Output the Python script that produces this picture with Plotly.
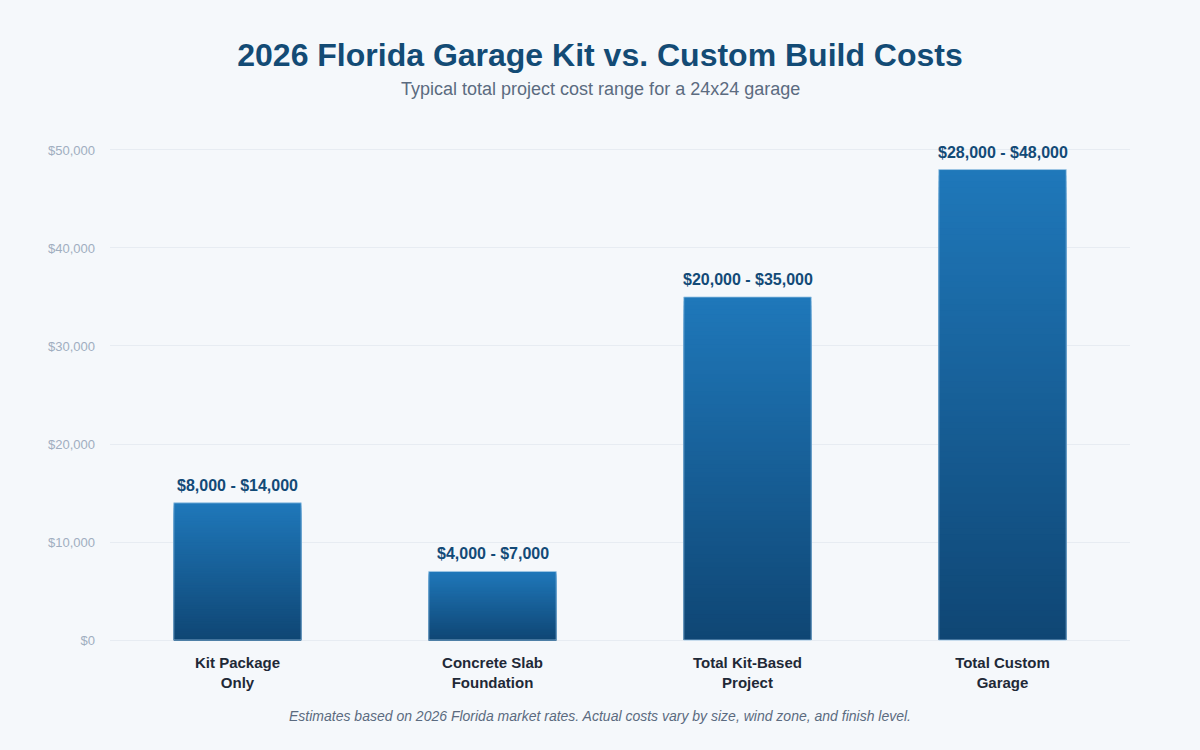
import plotly.graph_objects as go

categories = ["Kit Package<br>Only", "Concrete Slab<br>Foundation", "Total Kit-Based<br>Project", "Total Custom<br>Garage"]
low_values = [8000, 4000, 20000, 28000]
high_values = [14000, 7000, 35000, 48000]
range_labels = ["$8,000 - $14,000", "$4,000 - $7,000", "$20,000 - $35,000", "$28,000 - $48,000"]
tick_vals = [0, 10000, 20000, 30000, 40000, 50000]
tick_text = ["$0", "$10,000", "$20,000", "$30,000", "$40,000", "$50,000"]

top_rgb = (31, 120, 186)
bot_rgb = (15, 70, 116)
N = 80

fig = go.Figure()
# gradient: overlapping bars from 0, tallest (lightest top colour) drawn first
for k in range(N, 0, -1):
    t = (k - 0.5) / N
    c = tuple(round(bot_rgb[j] + (top_rgb[j] - bot_rgb[j]) * t) for j in range(3))
    fig.add_trace(go.Bar(
        x=categories,
        y=[v * k / N for v in high_values],
        marker=dict(color=f"rgb{c}", line=dict(width=0)),
        hoverinfo="skip", showlegend=False,
    ))

fig.add_trace(go.Bar(
    x=categories, y=high_values,
    marker=dict(color="rgba(0,0,0,0)", line=dict(color="rgba(160,200,230,0.8)", width=1)),
    showlegend=False, hoverinfo="skip",
))

annotations = []
for cat, v, lab in zip(categories, high_values, range_labels):
    annotations.append(dict(x=cat, y=v, xref="x", yref="y", text=f"<b>{lab}</b>", showarrow=False,
                            yanchor="bottom", yshift=7,
                            font=dict(size=16, color="#124a77")))

L, R, T, B = 110, 70, 147, 107
plot_h = 750 - T - B
plot_w = 1200 - L - R
def py(pix):
    return (750 - B - pix) / plot_h
cx = (600 - L) / plot_w

annotations.append(dict(text="Typical total project cost range for a 24x24 garage", x=cx, y=py(89),
                        xref="paper", yref="paper", showarrow=False, yanchor="middle",
                        font=dict(size=18, color="#5b6b80")))
annotations.append(dict(text="<i>Estimates based on 2026 Florida market rates. Actual costs vary by size, wind zone, and finish level.</i>",
                        x=cx, y=py(716), xref="paper", yref="paper", showarrow=False, yanchor="middle",
                        font=dict(size=14, color="#5b6b80")))

fig.update_layout(
    width=1200, height=750,
    barmode="overlay", bargap=0.5,
    paper_bgcolor="#f5f8fb", plot_bgcolor="#f5f8fb",
    margin=dict(l=L, r=R, t=T, b=B),
    font=dict(family="Liberation Sans, Arial, sans-serif"),
    title=dict(
        text="<b>2026 Florida Garage Kit vs. Custom Build Costs</b>",
        x=0.5, xanchor="center", y=0.927, yanchor="middle",
        font=dict(size=32, color="#134b75"),
    ),
    annotations=annotations,
)

fig.update_yaxes(range=[-300, 50300], tickvals=tick_vals, ticktext=tick_text,
                 tickfont=dict(size=13, color="#a0aec0"), gridcolor="#e7ecf2", gridwidth=1,
                 zeroline=False, showline=False, ticks="", ticklabelstandoff=14)
fig.update_xaxes(tickfont=dict(size=15, color="#1f2937"), showline=False, ticks="",
                 tickprefix="<b>", ticksuffix="</b>", ticklabelstandoff=9)

fig.write_html("out.html")
